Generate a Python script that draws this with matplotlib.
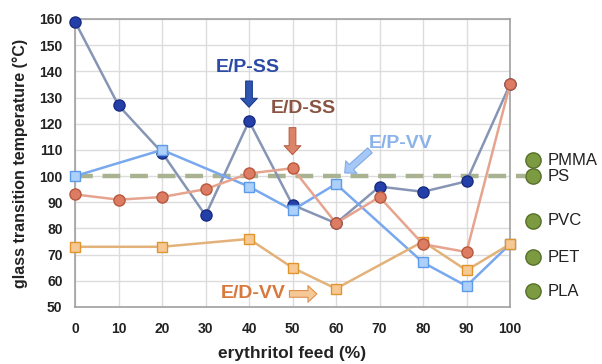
import matplotlib
matplotlib.use("Agg")
import matplotlib.pyplot as plt
import numpy as np

plt.rcParams['font.family'] = ['Liberation Sans', 'DejaVu Sans']

feed = [0, 10, 20, 30, 40, 50, 60, 70, 80, 90, 100]
ep_ss = [159, 127, 109, 85, 121, 89, 82, 96, 94, 98, 135]
ed_ss = [93, 91, 92, 95, 101, 103, 82, 92, 74, 71, 135]
vv_feed = [0, 20, 40, 50, 60, 80, 90, 100]
ep_vv = [100, 110, 96, 87, 97, 67, 58, 74]
ed_vv = [73, 73, 76, 65, 57, 75, 64, 74]
ref_polymers = ['PMMA', 'PS', 'PVC', 'PET', 'PLA']
ref_tg = [106, 100, 83, 69, 56]
yticks = list(range(50, 161, 10))
xticks = list(range(0, 101, 10))

fig = plt.figure(figsize=(6.02, 3.64), dpi=100)
ax = fig.add_axes([75/602, 57/364, 435/602, 288/364])
ax.set_xlim(0, 100)
ax.set_ylim(50, 160)
ax.set_xticks(xticks)
ax.set_yticks(yticks)
ax.grid(True, color='#dcdcdc', lw=1.0)
ax.set_axisbelow(True)
for s in ax.spines.values():
    s.set_color('#a0a0a0')
    s.set_linewidth(1.2)
ax.tick_params(axis='y', length=0, pad=9, labelsize=10)
ax.tick_params(axis='x', length=0, pad=11, labelsize=10)
for lab in ax.get_xticklabels() + ax.get_yticklabels():
    lab.set_fontweight('bold')
    lab.set_color('#222222')

# reference dashed line
ax.plot([0, 103.5], [100, 100], color='#a9b391', lw=3.2, dashes=(4.0, 2.2), clip_on=False, zorder=2)

ax.plot(feed, ed_ss, color='#e6a48e', lw=1.8, marker='o', ms=8, mfc='#dc7c62', mec='#b8583e', mew=1.0, zorder=4, clip_on=False)
ax.plot(feed, ep_ss, color='#8795b5', lw=1.8, marker='o', ms=8, mfc='#2440a8', mec='#172c80', mew=1.0, zorder=3, clip_on=False)
ax.plot(vv_feed, ep_vv, color='#78a8ee', lw=1.8, marker='s', ms=7.5, mfc='#acd0fa', mec='#5c9aea', mew=1.0, zorder=3, clip_on=False)
ax.plot(vv_feed, ed_vv, color='#e3b27a', lw=1.8, marker='s', ms=7.5, mfc='#f6c994', mec='#e0952c', mew=1.0, zorder=3, clip_on=False)

astyle = 'simple,head_length=0.32,head_width=0.6,tail_width=0.24'
def arrow(xy, xytext, fc, ec):
    ax.annotate('', xy=xy, xytext=xytext,
                arrowprops=dict(arrowstyle=astyle, mutation_scale=20, fc=fc, ec=ec, lw=0.8,
                                shrinkA=0, shrinkB=0))

# annotations
ax.text(39.8, 141.5, 'E/P-SS', color='#2b4aa5', fontsize=14, fontweight='bold', ha='center', va='center')
arrow((40, 126.3), (40, 136.3), '#2e56b0', '#1d3a8a')
ax.text(52.5, 126, 'E/D-SS', color='#8a5442', fontsize=14, fontweight='bold', ha='center', va='center')
arrow((50, 108.2), (50, 118.5), '#dc8468', '#b8604a')
ax.text(74.8, 112.5, 'E/P-VV', color='#8cb2ea', fontsize=14, fontweight='bold', ha='center', va='center')
arrow((62.0, 101.2), (67.8, 109.8), '#a6c8f6', '#80aaea')
ax.text(41.0, 55, 'E/D-VV', color='#d8783c', fontsize=14, fontweight='bold', ha='center', va='center')
arrow((55.6, 55), (49.3, 55), '#f6c896', '#dc9050')

# reference polymers
ax.plot([105.3] * len(ref_tg), ref_tg, linestyle='none', marker='o', ms=11, mfc='#7c9a40', mec='#55702a', mew=1.0, clip_on=False, zorder=5)
for name, tg in zip(ref_polymers, ref_tg):
    ax.text(108.6, tg, name, fontsize=12, color='#222222', ha='left', va='center')

ax.set_xlabel('erythritol feed (%)', fontsize=12.5, fontweight='bold', color='#222222', labelpad=7)
ax.set_ylabel('glass transition temperature (°C)', fontsize=11.5, fontweight='bold', color='#222222', labelpad=8)

fig.savefig('out.png', dpi=100)
